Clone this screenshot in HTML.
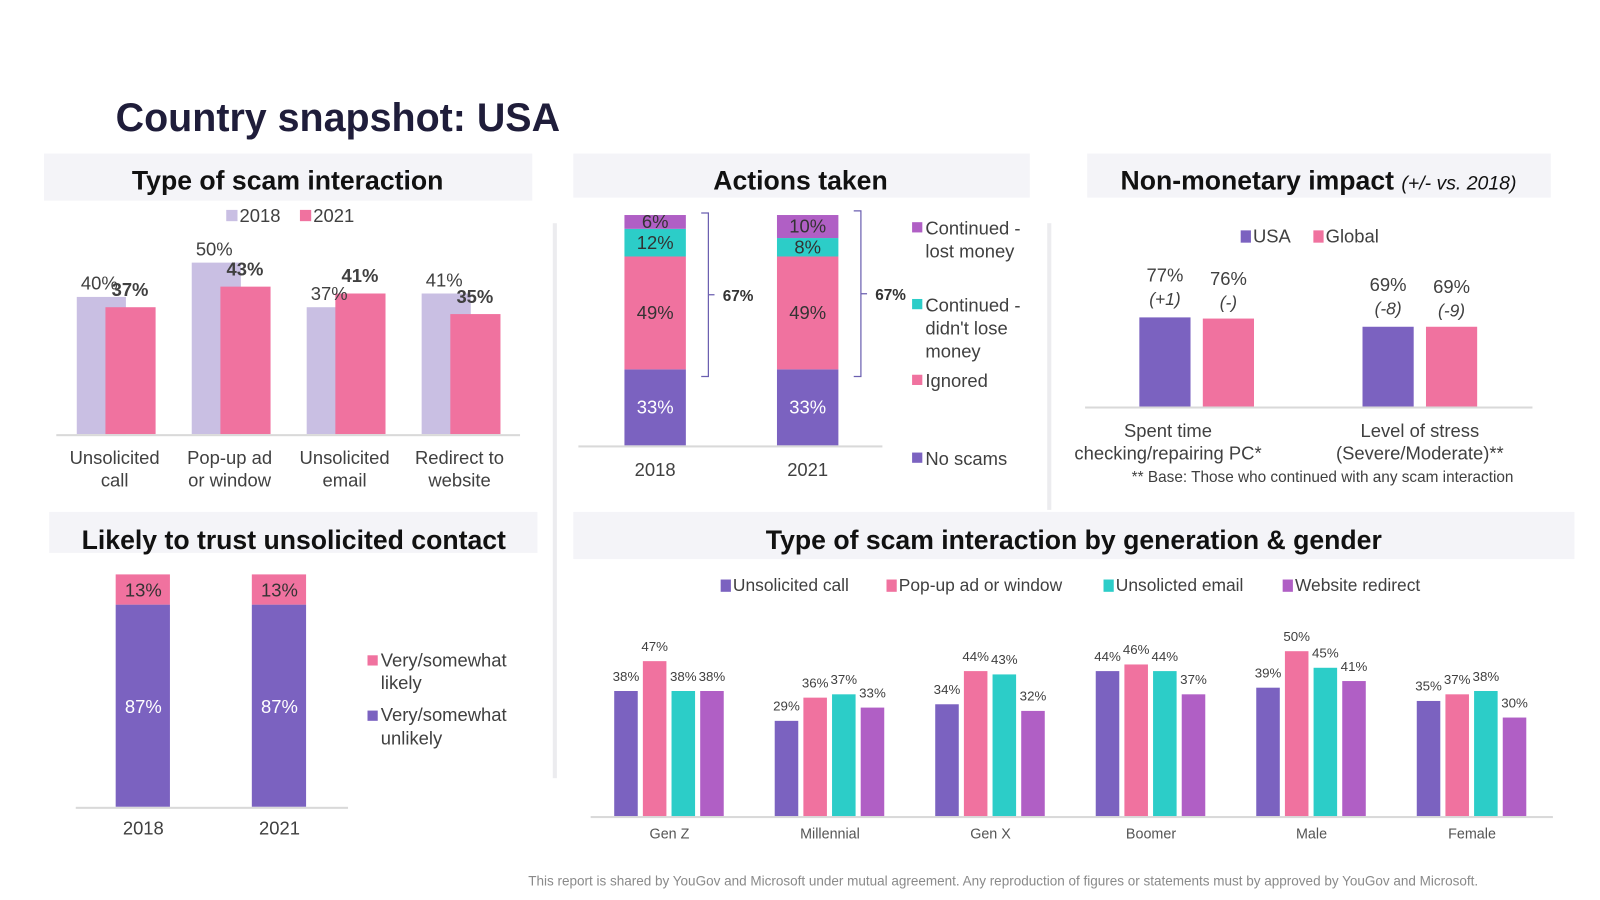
<!DOCTYPE html>
<html><head><meta charset="utf-8"><style>
html,body{margin:0;padding:0;background:#fff;}
svg{display:block;font-family:"Liberation Sans",Arial,sans-serif;}
</style></head><body>
<svg id="s" width="1600" height="900" viewBox="0 0 1563 879" preserveAspectRatio="none" xmlns="http://www.w3.org/2000/svg">
<text x="113" y="128" font-size="38.5" font-weight="bold" fill="#1f1d3a">Country snapshot: USA</text>
<rect x="540" y="218" width="4" height="542" fill="#ececef"/>
<rect x="1023" y="218" width="4" height="280" fill="#ececef"/>
<text x="980" y="865" font-size="13.2" fill="#8a8a8a" text-anchor="middle">This report is shared by YouGov and Microsoft under mutual agreement. Any reproduction of figures or statements must by approved by YouGov and Microsoft.</text>
<g id="g"></g>
</svg>
<script>
// Chart 1: Type of scam interaction
const c1Categories=[["Unsolicited","call"],["Pop-up ad","or window"],["Unsolicited","email"],["Redirect to","website"]];
const c1Values2018=[40,50,37,41];
const c1Values2021=[37,43,41,35];
// Chart 2: Actions taken
const c2Years=["2018","2021"];
const c2NoScams=[33,33];
const c2Ignored=[49,49];
const c2ContNoLoss=[12,8];
const c2ContLost=[6,10];
const c2Bracket=["67%","67%"];
// Chart 3: Non-monetary impact
const c3Categories=[["Spent time","checking/repairing PC*"],["Level of stress","(Severe/Moderate)**"]];
const c3USA=[77,69];
const c3Global=[76,69];
const c3USAChange=["(+1)","(-8)"];
const c3GlobalChange=["(-)","(-9)"];
// Chart 4: Likely to trust
const c4Years=["2018","2021"];
const c4Likely=[13,13];
const c4Unlikely=[87,87];
// Chart 5: by generation & gender
const c5Categories=["Gen Z","Millennial","Gen X","Boomer","Male","Female"];
const c5Call=[38,29,34,44,39,35];
const c5Popup=[47,36,44,46,50,37];
const c5Email=[38,37,43,44,45,38];
const c5Redirect=[38,33,32,37,41,30];

const NS="http://www.w3.org/2000/svg";
const G=document.getElementById('g');
const PURPLE="#7b62c0",PINK="#f0729f",LAV="#c9bfe3",CYAN="#2ccdc8",VIOLET="#b05fc5",TXT="#404040";
function mk(tag,a,txt){const e=document.createElementNS(NS,tag);for(const k in a)e.setAttribute(k,a[k]);if(txt!==undefined)e.textContent=txt;G.appendChild(e);return e;}
function rect(name,x,y,w,h,fill){const e=mk('rect',{x:x,y:y,width:w,height:h,fill:fill});


return e;}
function text(name,x,y,s,t,o){o=o||{};const e=mk('text',{x:x,y:y,'font-size':s,fill:o.fill||TXT,'text-anchor':o.anchor||'middle','font-weight':o.bold?'bold':'normal','font-style':o.italic?'italic':'normal'},t);


return e;}

// Panel headers
function header(name,x,y,w,h,title,tx,ty){rect(name+'-header-bg',x,y,w,h,'#f4f4f8');return text(name+'-title',tx,ty,26,title,{bold:true,fill:'#111'});}
header('scam-interaction',43,150,477,46,'Type of scam interaction',281,185);
header('actions-taken',560,150,446,43,'Actions taken',782,185);
rect('non-monetary-header-bg',1062,150,453,43,'#f4f4f8');
{const t=mk('text',{x:1288,y:185,'font-size':26,'font-weight':'bold','text-anchor':'middle',fill:'#111'});


t.innerHTML='Non-monetary impact <tspan font-size="19" font-style="italic" font-weight="normal">(+/- vs. 2018)</tspan>';}
header('trust',48,500,477,40,'Likely to trust unsolicited contact',287,536);
header('generation',560,500,978,46,'Type of scam interaction by generation & gender',1049,536);

// Chart 1
{const base=424,k=3.35,x0=75,step=112.3,w=48;
const y=v=>base-v*k;
rect('legend-2018-swatch',221,205,11,11,LAV);text('legend-2018',234,217,18,'2018',{anchor:'start'});
rect('legend-2021-swatch',293,205,11,11,PINK);text('legend-2021',306,217,18,'2021',{anchor:'start'});
c1Categories.forEach((c,i)=>{const x=x0+i*step;
rect('bar-2018-'+i,x,y(c1Values2018[i]),w,c1Values2018[i]*k,LAV);
rect('bar-2021-'+i,x+28,y(c1Values2021[i]),49,c1Values2021[i]*k,PINK);
text('label-2018-'+i,x+22,y(c1Values2018[i])-7,18,c1Values2018[i]+'%');
text('label-2021-'+i,x+52,y(c1Values2021[i])-11,18,c1Values2021[i]+'%',{bold:true});
text('category-'+i+'-line1',x+37,453,18,c[0]);text('category-'+i+'-line2',x+37,475,18,c[1]);});
rect('x-axis-1',55,424,453,2,'#d9d9d9');}

// Chart 2
{const base=435,k=2.25,xs=[610,759],w=60;
c2Years.forEach((yr,i)=>{let cum=0;const x=xs[i];
[[c2NoScams,PURPLE,'#fff','no-scams'],[c2Ignored,PINK,'#333','ignored'],[c2ContNoLoss,CYAN,'#333','continued-no-loss'],[c2ContLost,VIOLET,'#333','continued-lost']].forEach(s=>{
const v=s[0][i];const top=base-(cum+v)*k;rect('seg-'+s[3]+'-'+yr,x,top,w,v*k,s[1]);
text('seg-label-'+s[3]+'-'+yr,x+30,top+v*k/2+6,18,v+'%',{fill:s[2]});cum+=v;});
const bt=base-100*k-(i?4:2),bb=base-(c2NoScams[i])*k+7,bx=x+75;
const p=mk('path',{d:`M${bx},${bt} h7 V${bb} h-7 M${bx+7},${(bt+bb)/2} h6`,stroke:'#6b5fb0','stroke-width':1.2,fill:'none'});


text('bracket-label-'+yr,bx+36,(bt+bb)/2+6,15,c2Bracket[i],{bold:true,fill:'#333'});
text('axis-label-'+yr,x+30,465,18,yr);});
rect('x-axis-2',565,435,297,2,'#d9d9d9');
const lg=[[VIOLET,['Continued -','lost money'],229],[CYAN,['Continued -',"didn't lose",'money'],304],[PINK,['Ignored'],378],[PURPLE,['No scams'],454]];
lg.forEach((l,i)=>{rect('actions-legend-swatch-'+i,891,l[2]-12,10,10,l[0]);l[1].forEach((t,j)=>text('actions-legend-text-'+i+'-'+j,904,l[2]+j*22.5,18,t,{anchor:'start'}));});}

// Chart 3
{const base=398,k=1.143,xs=[1113,1331],w=50;
rect('legend-usa-swatch',1212,225,10,12,PURPLE);text('legend-usa',1224,237,18,'USA',{anchor:'start'});
rect('legend-global-swatch',1283,225,10,12,PINK);text('legend-global',1295,237,18,'Global',{anchor:'start'});
c3Categories.forEach((c,i)=>{const x=xs[i];
const tu=base-c3USA[i]*k,tg=base-c3Global[i]*k;
rect('bar-usa-'+i,x,tu,w,c3USA[i]*k,PURPLE);rect('bar-global-'+i,x+62,tg,w,c3Global[i]*k,PINK);
text('usa-value-'+i,x+25,tu-35,18,c3USA[i]+'%');text('usa-change-'+i,x+25,tu-12,17,c3USAChange[i],{italic:true});
text('global-value-'+i,x+87,tg-33,18,c3Global[i]+'%');text('global-change-'+i,x+87,tg-10,17,c3GlobalChange[i],{italic:true});
text('impact-category-'+i+'-1',x+28+(i?28:0),427,18,c[0]);text('impact-category-'+i+'-2',x+28+(i?28:0),449,18,c[1]);});
rect('x-axis-3',1060,397,437,2,'#d9d9d9');
text('base-note',1292,471,15,'** Base: Those who continued with any scam interaction');}

// Chart 4
{const base=788,k=2.27,xs=[113,246],w=53;
c4Years.forEach((yr,i)=>{const x=xs[i];const tu=base-c4Unlikely[i]*k,tl=tu-c4Likely[i]*k;
rect('trust-unlikely-'+yr,x,tu,w,c4Unlikely[i]*k,PURPLE);rect('trust-likely-'+yr,x,tl,w,c4Likely[i]*k,PINK);
text('trust-likely-label-'+yr,x+27,tl+c4Likely[i]*k/2+7,18,c4Likely[i]+'%',{fill:'#333'});
text('trust-unlikely-label-'+yr,x+27,tu+c4Unlikely[i]*k/2+7,18,c4Unlikely[i]+'%',{fill:'#fff'});
text('trust-axis-'+yr,x+27,815,18,yr);});
rect('x-axis-4',74,788,266,2,'#d9d9d9');
rect('trust-legend-likely-swatch',359,640,10,10,PINK);text('trust-legend-likely-1',372,651,18,'Very/somewhat',{anchor:'start'});text('trust-legend-likely-2',372,673,18,'likely',{anchor:'start'});
rect('trust-legend-unlikely-swatch',359,694,10,10,PURPLE);text('trust-legend-unlikely-1',372,704,18,'Very/somewhat',{anchor:'start'});text('trust-legend-unlikely-2',372,727,18,'unlikely',{anchor:'start'});}

// Chart 5
{const base=798,k=3.24,x0=600,step=156.8,w=23,gap=28;
const lg=[[PURPLE,'Unsolicited call',704],[PINK,'Pop-up ad or window',866],[CYAN,'Unsolicted email',1078],[VIOLET,'Website redirect',1253]];
lg.forEach((l,i)=>{rect('gen-legend-swatch-'+i,l[2],566,10,12,l[0]);text('gen-legend-'+i,l[2]+12,577,17,l[1],{anchor:'start'});});
const series=[[c5Call,PURPLE,'call'],[c5Popup,PINK,'popup'],[c5Email,CYAN,'email'],[c5Redirect,VIOLET,'redirect']];
c5Categories.forEach((c,i)=>{const gx=x0+i*step;
series.forEach((s,j)=>{const v=s[0][i];const x=gx+j*gap;
rect('bar-'+s[2]+'-'+c.replace(/\s/g,'-').toLowerCase(),x,base-v*k,w,v*k,s[1]);
text('value-'+s[2]+'-'+i,x+w/2,base-v*k-10,13,v+'%');});
text('gen-category-'+i,gx+54,819,14,c,{fill:'#555'});});
rect('x-axis-5',577,797,940,2,'#d9d9d9');}
</script>
</body></html>
